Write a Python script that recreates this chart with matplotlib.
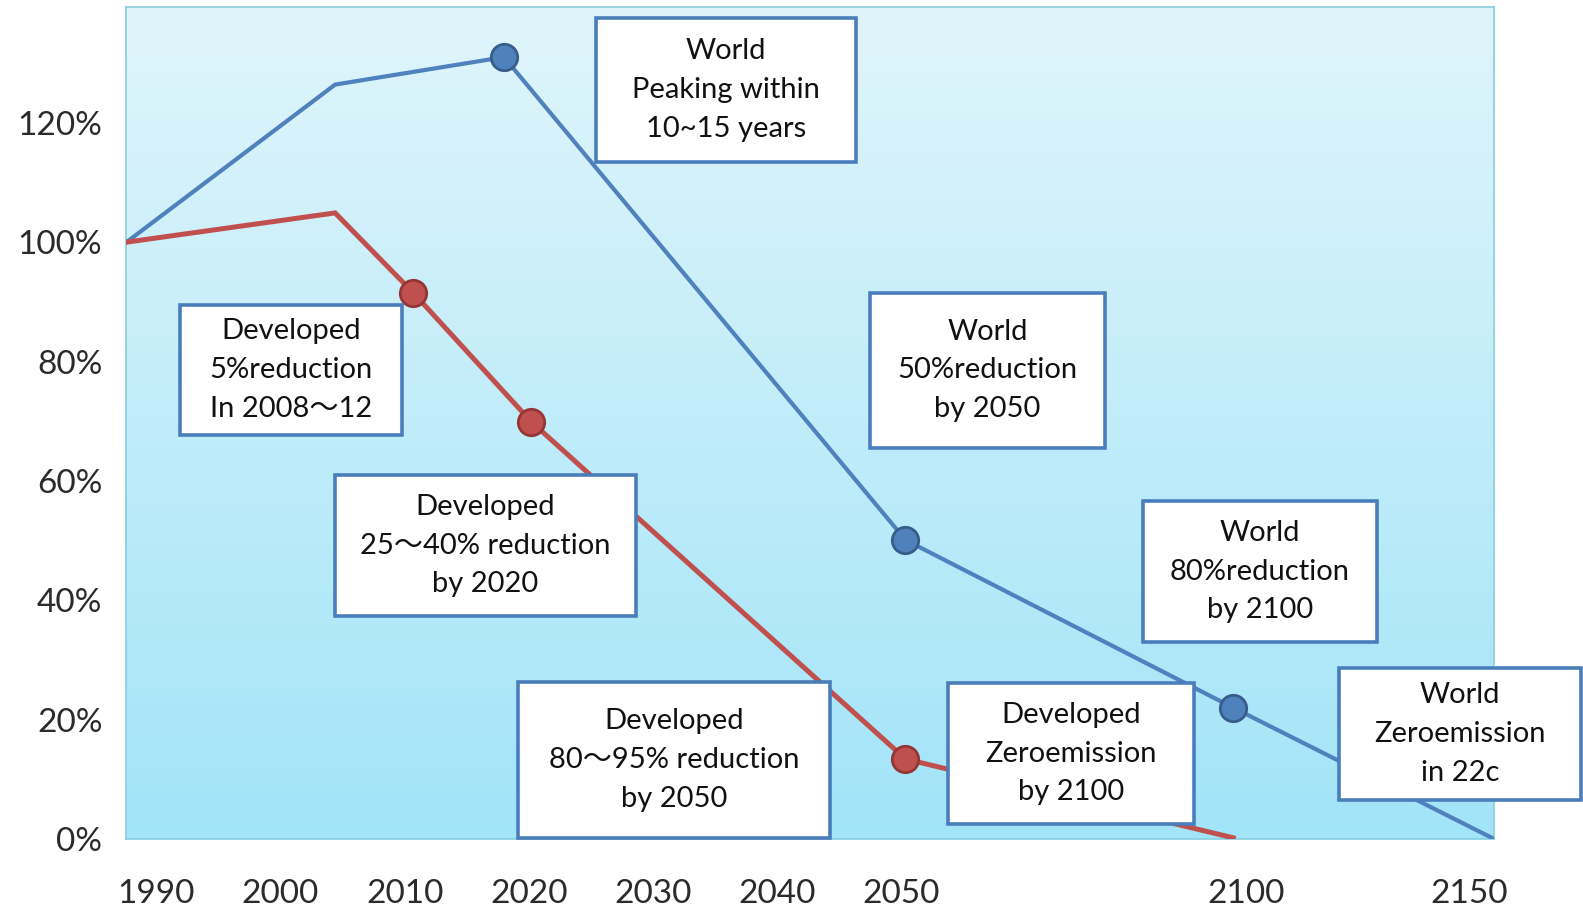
import numpy as np
import matplotlib
matplotlib.use("Agg")
import matplotlib.pyplot as plt
from matplotlib.patches import Rectangle

plt.rcParams['font.family'] = ['Lato', 'Noto Sans CJK JP', 'DejaVu Sans']

# emission pathways, % of 1990 level
world_years = [1987.6, 2004.4, 2018.0, 2050.6, 2098.2, 2155.7]
world_pct = [100.0, 126.4, 131.0, 50.1, 22.0, 0.0]
developed_years = [1987.6, 2004.4, 2010.7, 2020.2, 2050.6, 2098.2]
developed_pct = [100.0, 104.9, 91.5, 69.9, 13.4, 0.2]

x_ticks = [1990, 2000, 2010, 2020, 2030, 2040, 2050, 2100, 2150]
y_ticks = [0, 20, 40, 60, 80, 100, 120]

notes = [
    "World\nPeaking within\n10~15 years",
    "Developed\n5%reduction\nIn 2008～12",
    "World\n50%reduction\nby 2050",
    "Developed\n25～40% reduction\nby 2020",
    "World\n80%reduction\nby 2100",
    "Developed\n80～95% reduction\nby 2050",
    "Developed\nZeroemission\nby 2100",
    "World\nZeroemission\nin 22c",
]
# box extents in pixels: left, right, top, bottom
note_boxes = [
    (596, 856, 18, 162),
    (180, 402, 305, 435),
    (870, 1105, 293, 448),
    (335, 636, 475, 616),
    (1143, 1377, 501, 642),
    (518, 830, 682, 838),
    (948, 1194, 683, 824),
    (1339, 1581, 668, 800),
]

W, H = 1583, 911
BLUE = '#4f81bd'
RED = '#c0504d'

# time axis is stretched before 2050 and compressed after
year_knots = [1980, 2050, 2100, 2150, 2200]
pos_knots = [32, 893, 1234, 1455, 1676]


def fwd(v):
    return np.interp(v, year_knots, pos_knots)


def inv(v):
    return np.interp(v, pos_knots, year_knots)


fig = plt.figure(figsize=(W / 100, H / 100), dpi=100)
ax = fig.add_axes([126 / W, 1 - 839 / H, (1494 - 126) / W, (839 - 7) / H])
ax.set_xscale('function', functions=(fwd, inv))

grad = np.linspace(0, 1, 256).reshape(-1, 1)
cmap = matplotlib.colors.LinearSegmentedColormap.from_list('bg', ['#e0f5fb', '#a2e4f8'])
ax.imshow(grad, extent=[0, 1, 0, 1], transform=ax.transAxes, aspect='auto',
          cmap=cmap, zorder=0)

ax.plot(world_years, world_pct, color=BLUE, lw=3.0, zorder=3, solid_joinstyle='miter',
        marker='o', markevery=[2, 3, 4], ms=19, mfc=BLUE, mec='#385d8a', mew=2)
ax.plot(developed_years, developed_pct, color=RED, lw=3.6, zorder=3, solid_joinstyle='miter',
        marker='o', markevery=[2, 3, 4], ms=19, mfc=RED, mec='#943634', mew=2)

ax.set_xlim(1987.56, 2155.66)
ax.set_ylim(0, 139.4)
ax.set_xticks(x_ticks)
ax.set_xticklabels([str(t) for t in x_ticks])
ax.set_yticks(y_ticks)
ax.set_yticklabels([f"{t}%" for t in y_ticks])
ax.tick_params(length=0, labelsize=24, colors='#2b2b2b')
ax.tick_params(axis='x', pad=29)
ax.tick_params(axis='y', pad=17)
for s in ax.spines.values():
    s.set_color('#86cfe0')
    s.set_linewidth(1.2)

for txt, (l, r, t, b) in zip(notes, note_boxes):
    rect = Rectangle((l / W, 1 - b / H), (r - l) / W, (b - t) / H,
                     transform=fig.transFigure, facecolor='white',
                     edgecolor='#4a7ebb', lw=2.6, zorder=5, clip_on=False)
    fig.add_artist(rect)
    fig.text((l + r) / 2 / W, 1 - (t + b) / 2 / H, txt, ha='center', va='center',
             fontsize=21, linespacing=1.6, color='#111111', zorder=6)

fig.savefig('out.png', dpi=100)
